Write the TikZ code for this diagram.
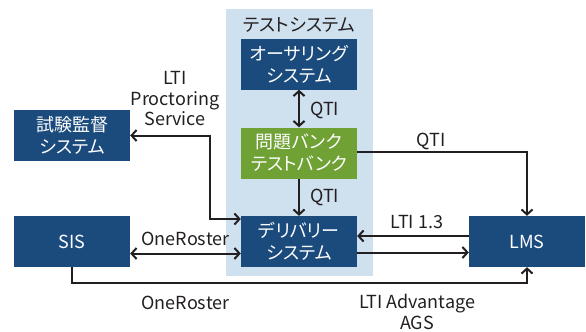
\documentclass[tikz,border=0pt]{standalone}
\usepackage{fontspec}
\setmainfont{Noto Sans CJK JP}[RawFeature={+palt}]
\usetikzlibrary{arrows.meta}

\definecolor{boxblue}{HTML}{1B4B7D}
\definecolor{bankgreen}{HTML}{6FA134}
\definecolor{panel}{HTML}{CFE0EF}
\definecolor{ink}{HTML}{231F20}

\tikzset{
  sysbox/.style={fill=boxblue, text=white, minimum width=116bp, minimum height=51bp,
    inner sep=0pt, align=center, font=\fontsize{18bp}{22bp}\selectfont},
  lbl/.style={text=ink, inner sep=0pt, align=center,
    font=\fontsize{18bp}{20.5bp}\selectfont},
  link/.style={draw=ink, line width=2bp},
  tip/.tip={Straight Barb[length=5bp, width=11bp]},
}

\begin{document}
\begin{tikzpicture}[x=1bp, y=-1bp]
  \useasboundingbox (0,0) rectangle (586,331);

  % test system panel
  \node[fill=panel, minimum width=147bp, minimum height=267bp, inner sep=0pt] (panel) at (299.5,142.5) {};
  \node[lbl] (paneltitle) at (299,25) {テストシステム};

  % systems
  \node[sysbox] (auth)  at (299,64)    {オーサリング\\システム};
  \node[sysbox, fill=bankgreen] (bank) at (299,153) {問題バンク\\テストバンク};
  \node[sysbox] (deliv) at (299,241.5) {デリバリー\\システム};
  \node[sysbox] (proc)  at (72,135.5)  {試験監督\\システム};
  \node[sysbox] (sis)   at (72,241.5)  {SIS};
  \node[sysbox] (lms)   at (527,241.5) {LMS};

  % connectors
  \draw[link, tip-tip] (auth.south) -- (bank.north);
  \draw[link, -tip] (bank.south) -- (deliv.north);
  \draw[link, -tip] ([yshift=1bp]bank.east) -| (lms.north);
  \draw[link, tip-tip] (proc.east) -- ++(80,0) |- ([yshift=22.5bp]deliv.west);
  \draw[link, tip-tip] ([yshift=-12bp]sis.east) -- ([yshift=-12bp]deliv.west);
  \draw[link, -tip] ([yshift=5.5bp]lms.west) -- ([yshift=5.5bp]deliv.east);
  \draw[link, -tip] ([yshift=-11bp]deliv.east) -- ([yshift=-11bp]lms.west);
  \draw[link, -tip] (sis.south) -- ++(0,15.5) -| (lms.south);

  % connector labels
  \node[lbl, anchor=west] (qti1) at (310,110) {QTI};
  \node[lbl, anchor=west] (qti2) at (310,197) {QTI};
  \node[lbl] (qti3) at (431,141) {QTI};
  \node[lbl] (proctor) at (175,99) {LTI\\Proctoring\\Service};
  \node[lbl] (roster1) at (185.5,239) {OneRoster};
  \node[lbl] (roster2) at (185.5,303) {OneRoster};
  \node[lbl] (lti13) at (417,222) {LTI 1.3};
  \node[lbl] (ags) at (417,312) {LTI Advantage\\AGS};
\end{tikzpicture}
\end{document}
